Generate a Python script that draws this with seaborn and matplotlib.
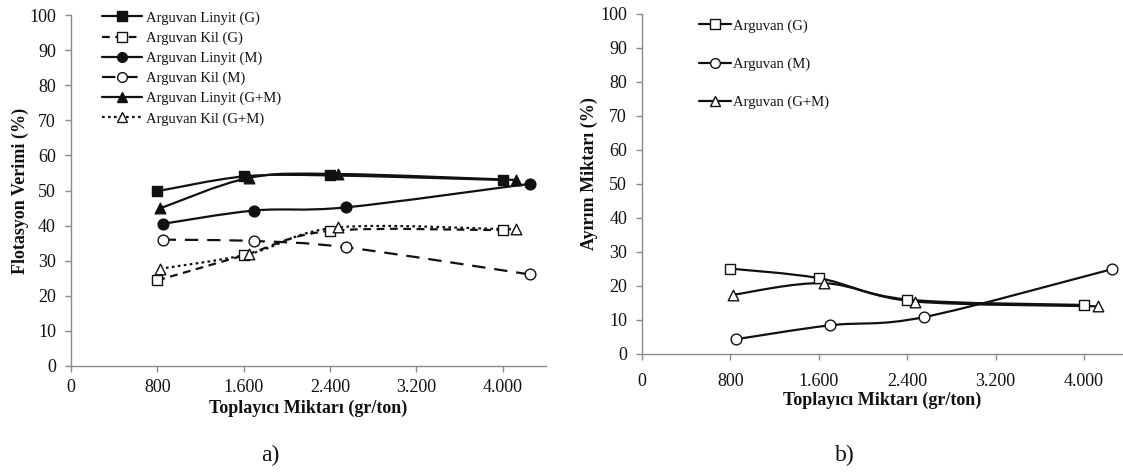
import numpy as np
import pandas as pd
import matplotlib
matplotlib.use("Agg")
import matplotlib.pyplot as plt
from matplotlib.path import Path
from matplotlib.patches import PathPatch
from matplotlib.lines import Line2D
from matplotlib.ticker import FuncFormatter, FixedLocator
import seaborn as sns

sns.set_theme(style="white")
plt.rcParams["font.family"] = ["Liberation Serif", "DejaVu Serif"]

# Collector dosages (gr/ton) for each collector type
x_g = [800, 1600, 2400, 4000]
x_m = [850, 1700, 2550, 4250]
x_gm = [825, 1650, 2475, 4125]

# a) Flotation yield (%)
linyit_g = [49.8, 54.0, 54.3, 53.0]
kil_g = [24.4, 31.5, 38.5, 38.7]
linyit_m = [40.5, 44.3, 45.2, 51.9]
kil_m = [36.0, 35.6, 33.8, 26.1]
linyit_gm = [44.9, 53.6, 54.7, 53.0]
kil_gm = [27.7, 31.9, 39.5, 38.9]

# b) Separation amount (%)
arg_g = [25.0, 22.2, 15.9, 14.3]
arg_m = [4.2, 8.3, 10.7, 24.8]
arg_gm = [17.3, 20.7, 15.3, 13.9]

x_ticks = [0, 800, 1600, 2400, 3200, 4000]
y_ticks = list(range(0, 101, 10))

GREY = "#8a8a8a"
INK = "#111111"

fig = plt.figure(figsize=(11.23, 4.74), dpi=100)
ax1 = fig.add_axes([71 / 1123, 1 - 366 / 474, 474.7 / 1123, 351 / 474])
ax2 = fig.add_axes([642 / 1123, 1 - 353.5 / 474, 481 / 1123, 339.5 / 474])


def smooth_curve(ax, xs, ys, ls, lw=1.6):
    """Draw a Catmull-Rom style smoothed line through the points."""
    x0, x1 = ax.get_xlim()
    y0, y1 = ax.get_ylim()
    bb = ax.get_window_extent()
    sx = bb.width / (x1 - x0)
    sy = bb.height / (y1 - y0)
    P = np.column_stack([np.asarray(xs, float) * sx, np.asarray(ys, float) * sy])
    n = len(P)
    verts = [P[0]]
    codes = [Path.MOVETO]
    for i in range(n - 1):
        p_prev = P[i - 1] if i > 0 else P[i]
        p_next = P[i + 2] if i + 2 < n else P[i + 1]
        c1 = P[i] + (P[i + 1] - p_prev) / 6.0
        c2 = P[i + 1] - (p_next - P[i]) / 6.0
        verts += [c1, c2, P[i + 1]]
        codes += [Path.CURVE4] * 3
    verts = np.array(verts)
    verts[:, 0] /= sx
    verts[:, 1] /= sy
    patch = PathPatch(Path(verts, codes), fill=False, edgecolor=INK,
                      linewidth=lw, linestyle=ls, transform=ax.transData,
                      zorder=2, capstyle="butt")
    ax.add_patch(patch)


def style_axes(ax, xmax, ylabel, xpad, xlabelpad, ylabel_pos):
    ax.set_xlim(0, xmax)
    ax.set_ylim(0, 100)
    for s in ["top", "right"]:
        ax.spines[s].set_visible(False)
    for s in ["left", "bottom"]:
        ax.spines[s].set_color(GREY)
        ax.spines[s].set_linewidth(1.0)
    ax.xaxis.set_major_locator(FixedLocator(x_ticks))
    ax.yaxis.set_major_locator(FixedLocator(y_ticks))
    ax.xaxis.set_major_formatter(FuncFormatter(lambda v, p: f"{int(v):,}".replace(",", ".")))
    ax.tick_params(axis="both", which="major", direction="out", length=4.3,
                   width=1.0, color=GREY, labelsize=13, labelcolor=INK,
                   bottom=True, left=True)
    ax.tick_params(axis="y", pad=6.5)
    ax.tick_params(axis="x", pad=xpad)
    ax.set_xlabel("Toplayıcı Miktarı (gr/ton)", fontsize=13, fontweight="bold",
                  color=INK, labelpad=xlabelpad)
    ax.set_ylabel(ylabel, fontsize=13, fontweight="bold", color=INK)
    ax.yaxis.set_label_coords(*ylabel_pos)
    ax.grid(False)


style_axes(ax1, 4400, "Flotasyon Verimi (%)", 5, 3, (-0.088, 0.50))
style_axes(ax2, 4354, "Ayırım Miktarı (%)", 10, 1, (-0.0915, 0.53))

series_a = [
    ("Arguvan Linyit (G)", x_g, linyit_g, "s", INK, "-"),
    ("Arguvan Kil (G)", x_g, kil_g, "s", "white", (0, (3.5, 2.5))),
    ("Arguvan Linyit (M)", x_m, linyit_m, "o", INK, "-"),
    ("Arguvan Kil (M)", x_m, kil_m, "o", "white", (0, (6, 4))),
    ("Arguvan Linyit (G+M)", x_gm, linyit_gm, "^", INK, "-"),
    ("Arguvan Kil (G+M)", x_gm, kil_gm, "^", "white", (0, (1.2, 1.5))),
]

series_b = [
    ("Arguvan (G)", x_g, arg_g, "s", "white", "-"),
    ("Arguvan (M)", x_m, arg_m, "o", "white", "-"),
    ("Arguvan (G+M)", x_gm, arg_gm, "^", "white", "-"),
]


def draw_panel(ax, series, handlelength, labelspacing, handletextpad, anchor):
    handles = []
    for label, xs, ys, mk, fc, ls in series:
        smooth_curve(ax, xs, ys, ls)
        df = pd.DataFrame({"x": xs, "y": ys})
        sns.scatterplot(data=df, x="x", y="y", ax=ax, marker=mk, s=60 if mk != "^" else 58,
                        facecolor=fc, edgecolor=INK, linewidth=1.0, zorder=3,
                        legend=False)
        handles.append(Line2D([], [], color=INK, linewidth=1.6, linestyle=ls,
                              marker=mk, markersize=7, markerfacecolor=fc,
                              markeredgecolor=INK, markeredgewidth=1.0,
                              label=label))
    leg = ax.legend(handles=handles, loc="upper left", bbox_to_anchor=anchor,
                    frameon=False, fontsize=10.5, handlelength=handlelength,
                    labelspacing=labelspacing, handletextpad=handletextpad,
                    borderpad=0, borderaxespad=0)
    for t in leg.get_texts():
        t.set_color(INK)


draw_panel(ax1, series_a, 2.74, 0.46, 0.28, (0.065, 1.011))
draw_panel(ax2, series_b, 2.19, 1.71, 0.14, (0.118, 0.985))

# draw_panel's seaborn calls reset axis labels; restore them
style_axes(ax1, 4400, "Flotasyon Verimi (%)", 5, 3, (-0.088, 0.50))
style_axes(ax2, 4354, "Ayırım Miktarı (%)", 10, 1, (-0.0915, 0.53))

fig.text(270 / 1123, 1 - 455 / 474, "a)", fontsize=17, ha="center", va="center", color=INK)
fig.text(845 / 1123, 1 - 455 / 474, "b)", fontsize=17, ha="center", va="center", color=INK)

fig.savefig("out.png", dpi=100, facecolor="white")
